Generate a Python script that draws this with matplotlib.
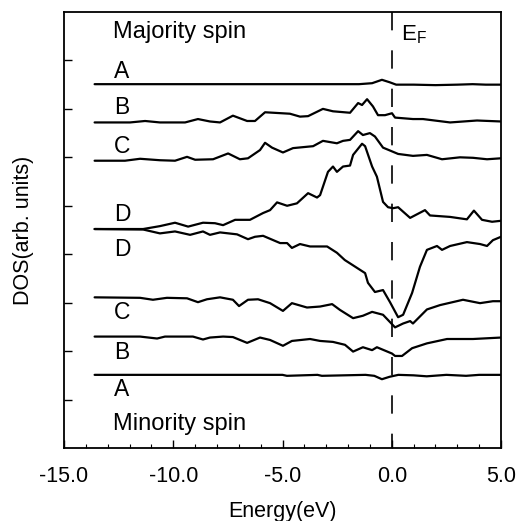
import numpy as np
import matplotlib
matplotlib.use("Agg")
import matplotlib.pyplot as plt
from matplotlib.ticker import MultipleLocator

plt.rcParams['font.family'] = ['Liberation Sans', 'DejaVu Sans']
plt.rcParams['mathtext.default'] = 'regular'

# ---- data (energy in eV, DOS in arb. units incl. offset) ----
maj_A_E = [-13.6, -3.0, -1.5, -0.9, -0.45, -0.1, 0.2, 1.0, 2.0, 3.0, 3.7, 4.3, 5.0]
maj_A_y = [7.51, 7.51, 7.51, 7.53, 7.60, 7.55, 7.50, 7.50, 7.49, 7.50, 7.51, 7.50, 7.50]

maj_B_E = [-13.6, -11.98, -11.29, -10.61, -9.46, -8.87, -8.32, -7.86, -7.27, -6.62, -6.26,
           -5.80, -4.66, -4.20, -3.83, -3.15, -2.69, -1.91, -1.54, -1.36, -1.13, -0.86,
           -0.63, -0.31, 0.01, 0.15, 0.97, 1.43, 2.67, 3.90, 5.0]
maj_B_y = [6.72, 6.72, 6.75, 6.72, 6.72, 6.79, 6.74, 6.72, 6.86, 6.75, 6.75,
           6.93, 6.90, 6.84, 6.85, 7.00, 6.95, 6.92, 7.12, 7.08, 7.20, 7.05,
           6.87, 6.87, 6.91, 6.82, 6.79, 6.79, 6.72, 6.76, 6.74]

maj_C_E = [-13.6, -12.21, -11.52, -10.61, -9.92, -9.37, -9.00, -8.18, -7.49, -6.95, -6.58,
           -6.03, -5.80, -5.48, -4.98, -4.52, -3.60, -3.15, -2.51, -2.23, -1.91, -1.54,
           -1.32, -1.00, -0.77, -0.40, -0.08, 0.29, 0.97, 1.61, 2.30, 3.12, 3.72, 4.36, 5.0]
maj_C_y = [5.93, 5.93, 5.97, 5.94, 5.93, 6.01, 5.95, 5.96, 6.08, 5.96, 5.98,
           6.15, 6.30, 6.20, 6.10, 6.19, 6.23, 6.34, 6.29, 6.34, 6.36, 6.54,
           6.46, 6.50, 6.43, 6.20, 6.14, 6.07, 6.03, 6.05, 5.96, 6.00, 5.99, 5.96, 5.98]

maj_D_E = [-13.6, -11.38, -10.61, -9.92, -9.32, -8.64, -8.09, -7.72, -7.17, -6.49, -5.89,
           -5.57, -5.25, -4.79, -4.34, -3.83, -3.42, -3.28, -2.92, -2.69, -2.51, -2.23,
           -1.91, -1.77, -1.36, -1.22, -0.90, -0.68, -0.40, -0.17, 0.06, 0.29, 0.84,
           1.52, 1.75, 2.67, 3.44, 3.76, 4.13, 4.59, 5.0]
maj_D_y = [4.52, 4.52, 4.58, 4.65, 4.57, 4.65, 4.64, 4.60, 4.71, 4.71, 4.85,
           4.91, 5.07, 5.00, 5.05, 5.26, 5.17, 5.22, 5.70, 5.81, 5.70, 5.81,
           5.83, 6.05, 6.28, 6.23, 5.81, 5.60, 5.08, 4.97, 4.95, 4.97, 4.75,
           4.91, 4.80, 4.77, 4.72, 4.90, 4.71, 4.67, 4.69]

min_D_E = [-13.6, -11.38, -10.61, -9.92, -9.23, -8.64, -8.32, -7.86, -7.08, -6.58, -6.26,
           -5.89, -5.11, -4.79, -4.57, -4.20, -3.74, -2.96, -2.51, -2.15, -1.77, -1.22,
           -1.09, -0.77, -0.40, -0.08, 0.29, 0.52, 0.93, 1.29, 1.61, 2.07, 2.30, 2.67,
           3.44, 4.04, 4.36, 4.63, 5.0]
min_D_y = [4.52, 4.51, 4.43, 4.47, 4.40, 4.47, 4.40, 4.45, 4.41, 4.31, 4.36,
           4.38, 4.23, 4.23, 4.13, 4.21, 4.16, 4.16, 4.03, 3.88, 3.77, 3.61,
           3.41, 3.22, 3.26, 3.01, 2.70, 2.75, 3.20, 3.74, 4.09, 4.17, 4.09, 4.17,
           4.25, 4.21, 4.17, 4.29, 4.36]

min_C_E = [-13.6, -11.52, -10.93, -10.29, -9.37, -8.87, -8.46, -7.86, -7.27, -6.99, -6.58,
           -6.12, -5.57, -4.98, -4.57, -3.88, -3.28, -2.73, -2.37, -1.77, -1.32, -0.90,
           -0.40, 0.15, 0.52, 0.84, 0.97, 1.61, 2.21, 3.26, 4.04, 4.63, 5.0]
min_C_y = [3.11, 3.10, 3.06, 3.10, 3.09, 3.01, 3.07, 3.11, 3.06, 2.93, 3.06,
           3.07, 2.99, 2.83, 2.99, 2.90, 2.92, 2.97, 2.85, 2.68, 2.73, 2.81,
           2.75, 2.49, 2.57, 2.62, 2.57, 2.86, 2.95, 3.06, 2.99, 3.03, 3.03]

min_B_E = [-13.6, -11.52, -10.74, -10.38, -9.10, -8.64, -8.32, -7.72, -7.27, -6.62, -6.03,
           -5.57, -4.98, -4.57, -3.74, -3.28, -2.69, -2.14, -1.77, -1.32, -0.90, -0.68,
           0.01, 0.15, 0.47, 0.93, 1.61, 2.53, 3.72, 5.0]
min_B_y = [2.30, 2.30, 2.26, 2.30, 2.30, 2.24, 2.28, 2.30, 2.29, 2.17, 2.28,
           2.23, 2.11, 2.21, 2.25, 2.21, 2.19, 2.13, 1.99, 2.08, 2.02, 2.08,
           1.95, 1.90, 1.90, 2.06, 2.16, 2.25, 2.25, 2.28]

min_A_E = [-13.6, -5.0, -4.8, -3.4, -3.2, -1.2, -0.8, -0.45, -0.1, 0.3, 1.0, 1.6, 2.5,
           3.4, 4.0, 5.0]
min_A_y = [1.51, 1.51, 1.49, 1.51, 1.49, 1.51, 1.49, 1.42, 1.47, 1.51, 1.50, 1.48, 1.51,
           1.49, 1.51, 1.51]

curves = [(maj_A_E, maj_A_y), (maj_B_E, maj_B_y), (maj_C_E, maj_C_y), (maj_D_E, maj_D_y),
          (min_D_E, min_D_y), (min_C_E, min_C_y), (min_B_E, min_B_y), (min_A_E, min_A_y)]

# curve labels and their vertical positions
labels = ['A', 'B', 'C', 'D', 'D', 'C', 'B', 'A']
label_y = [7.78, 7.02, 6.23, 4.81, 4.09, 2.79, 1.98, 1.20]

fig = plt.figure(figsize=(5.18, 5.21), dpi=100)
ax = fig.add_axes([0.1236, 0.1401, 0.8436, 0.8369])

for E, y in curves:
    ax.plot(E, y, color='black', lw=1.6, solid_joinstyle='round', solid_capstyle='round')

# Fermi level
ax.plot([0, 0], [9, 0], color='black', lw=1.2, dashes=(11, 12))
ax.text(0.42, 8.53, r'E$_F$', fontsize=16, va='center', ha='left')

for lab, ly in zip(labels, label_y):
    ax.text(-12.7, ly, lab, fontsize=16.5, va='center', ha='left')
ax.text(-12.75, 8.59, 'Majority spin', fontsize=17, va='center', ha='left')
ax.text(-12.75, 0.50, 'Minority spin', fontsize=17, va='center', ha='left')

ax.set_xlim(-15, 5)
ax.set_ylim(0, 9)
ax.xaxis.set_minor_locator(MultipleLocator(1))
ax.set_xticks([-15, -10, -5, 0, 5])
ax.set_xticklabels(['-15.0', '-10.0', '-5.0', '0.0', '5.0'], fontsize=15.5)
ax.set_yticks([1, 2, 3, 4, 5, 6, 7, 8])
ax.set_yticklabels([])
ax.tick_params(axis='both', which='major', direction='in', length=6, width=1)
ax.tick_params(axis='both', which='minor', direction='in', length=3, width=0.8)
ax.tick_params(axis='x', pad=13)
ax.tick_params(axis='y', which='minor', left=False)
for s in ax.spines.values():
    s.set_linewidth(1.3)

ax.set_xlabel('Energy(eV)', fontsize=15.5, labelpad=10)
ax.set_ylabel('DOS(arb. units)', fontsize=15.5, labelpad=18)

fig.savefig('out.png', dpi=100)
